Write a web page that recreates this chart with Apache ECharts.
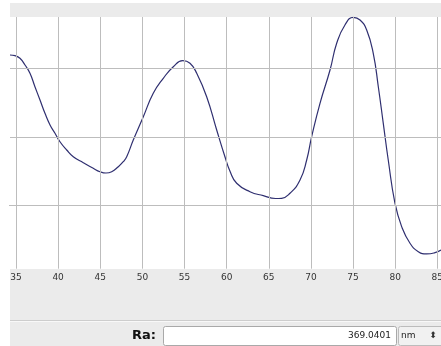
<!DOCTYPE html>
<html>
<head>
<meta charset="utf-8">
<script src="https://cdn.jsdelivr.net/npm/echarts@6/dist/echarts.min.js"></script>
<style>
html, body { margin: 0; padding: 0; background: #fff; }
#profile { width: 441px; height: 346px; }
</style>
</head>
<body>
<div id="profile"></div>
<script>
// profile x positions (axis units) and heights
var profileX = [34.29, 34.88, 35.47, 36.07, 36.66, 37.25, 37.85, 38.44, 39.04, 39.63,
    40.22, 41.02, 41.80, 42.99, 44.17, 44.97, 45.68, 46.36, 47.14, 47.73,
    48.14, 48.92, 50.11, 51.29, 52.48, 53.67, 54.78, 55.65, 56.45, 57.63,
    58.82, 59.80, 60.40, 61.19, 62.77, 64.35, 65.80, 66.53, 67.52, 68.71,
    69.50, 70.09, 71.08, 72.27, 73.06, 74.04, 75.03, 75.83, 76.62, 77.40,
    78.00, 78.59, 79.18, 79.98, 80.77, 81.76, 82.75, 83.74, 84.73, 85.44];
var profileY = [219.7, 218.7, 214.9, 205.1, 193.0, 173.4, 154.0, 134.6, 117.5, 105.4,
    93.1, 81.0, 71.2, 62.5, 54.3, 49.3, 47.4, 49.3, 56.6, 63.9,
    71.2, 95.6, 129.6, 163.8, 185.7, 202.6, 211.4, 207.6, 193.0, 158.8,
    110.2, 71.2, 50.0, 32.4, 20.1, 14.3, 10.2, 10.5, 17.8, 37.2,
    66.4, 100.4, 149.2, 197.8, 236.8, 263.5, 274.7, 270.8, 256.2, 222.2,
    173.4, 120.0, 66.4, 3.2, -30.9, -55.2, -67.4, -70.8, -68.9, -65.0];
var xTicks = [35, 40, 45, 50, 55, 60, 65, 70, 75, 80, 85];
var yGrid = [0, 100, 200];
var raValue = '369.0401';
var raUnit = 'nm';

var profileChart = echarts.init(document.getElementById('profile'));

var pts = [];
for (var i = 0; i < profileX.length; i++) {
    pts.push([profileX[i], profileY[i]]);
}
// horizontal and vertical grid lines, placed on the axes' scales
var gridLines = [];
for (var j = 0; j < yGrid.length; j++) {
    gridLines.push({ yAxis: yGrid[j] });
}
for (var k = 0; k < xTicks.length; k++) {
    gridLines.push({ xAxis: xTicks[k] });
}

var option = {
    animation: false,
    grid: { left: 10, right: 0, top: 17, bottom: 77.3, containLabel: false, outerBoundsMode: 'none' },
    xAxis: {
        type: 'value',
        min: 34.29,
        max: 85.44,
        axisLine: { lineStyle: { color: '#5a5a5a', width: 1 } },
        axisTick: { show: true, length: 4, customValues: xTicks, lineStyle: { color: '#9a9a9a' } },
        axisLabel: {
            customValues: xTicks,
            margin: 4,
            color: '#333',
            fontSize: 9,
            fontFamily: 'DejaVu Sans'
        },
        splitLine: { show: false }
    },
    yAxis: {
        type: 'value',
        min: -92.3,
        max: 275.2,
        show: false,
        splitLine: { show: false }
    },
    graphic: [
        // top strip
        { type: 'rect', shape: { x: 10, y: 3, width: 431, height: 14 }, style: { fill: '#ebebeb' }, z: -1 },
        // bottom panel
        { type: 'rect', shape: { x: 10, y: 269, width: 431, height: 77 }, style: { fill: '#ebebeb' }, z: -1 },
        { type: 'line', shape: { x1: 10, y1: 320.5, x2: 441, y2: 320.5 }, style: { stroke: '#cdcdcd', lineWidth: 1 } },
        { type: 'line', shape: { x1: 10, y1: 321.5, x2: 441, y2: 321.5 }, style: { stroke: '#f8f8f8', lineWidth: 1 } },
        {
            type: 'text', x: 156, y: 336,
            style: { text: 'Ra:', fill: '#111', font: 'bold 13px "DejaVu Sans"', align: 'right', verticalAlign: 'middle' }
        },
        {
            type: 'rect', shape: { x: 163.5, y: 326.5, width: 233, height: 19, r: 2 },
            style: { fill: '#ffffff', stroke: '#a9a9a9', lineWidth: 1 }
        },
        {
            type: 'text', x: 391, y: 336,
            style: { text: raValue, fill: '#222', font: '9px "DejaVu Sans"', align: 'right', verticalAlign: 'middle' }
        },
        {
            type: 'rect', shape: { x: 398.5, y: 326.5, width: 45, height: 19, r: 2 },
            style: { fill: '#f1f1f1', stroke: '#bcbcbc', lineWidth: 1 }
        },
        {
            type: 'text', x: 401, y: 336,
            style: { text: raUnit, fill: '#222', font: '9px "DejaVu Sans"', align: 'left', verticalAlign: 'middle' }
        },
        {
            type: 'text', x: 433, y: 336,
            style: { text: '\u2B0D', fill: '#333', font: '9px "DejaVu Sans"', align: 'center', verticalAlign: 'middle' }
        }
    ],
    series: [{
        type: 'line',
        data: pts,
        showSymbol: false,
        smooth: 0.5,
        clip: true,
        z: 3,
        lineStyle: { color: '#2f2f70', width: 1.2 },
        markLine: {
            silent: true,
            symbol: ['none', 'none'],
            label: { show: false },
            lineStyle: { color: '#bdbdbd', type: 'solid', width: 1 },
            data: gridLines
        }
    }]
};
profileChart.setOption(option);
</script>
</body>
</html>
